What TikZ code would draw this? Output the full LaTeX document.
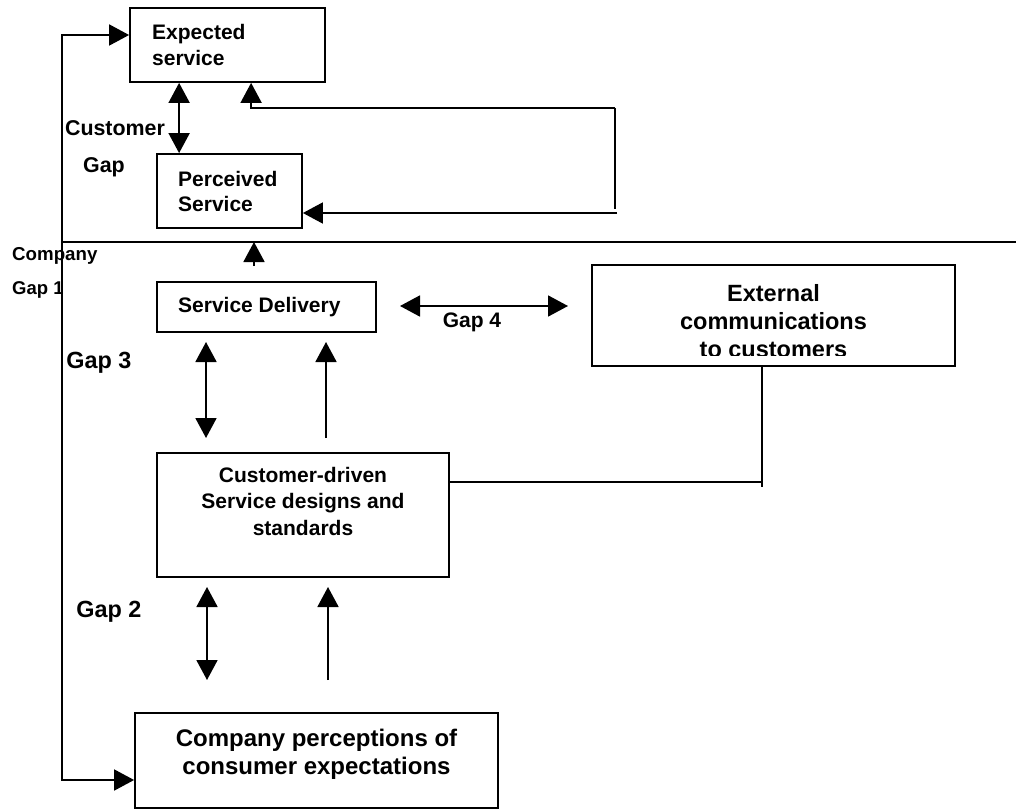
\documentclass[tikz,border=0pt]{standalone}
\usepackage{fontspec}
\setmainfont{Liberation Sans}
\usetikzlibrary{arrows.meta}
\begin{document}
\begin{tikzpicture}[x=1pt,y=-1pt]
\tikzset{
  box/.style={draw, line width=1.8pt, inner sep=0pt},
  conn/.style={line width=1.8pt},
  tip/.style={conn, -{Triangle[length=20pt,width=21pt]}},
  tips/.style={conn, {Triangle[length=20pt,width=21pt]}-{Triangle[length=20pt,width=21pt]}},
  txt/.style 2 args={inner sep=0pt, font=\bfseries\fontsize{#1}{#2}\selectfont}
}
\useasboundingbox (0,0) rectangle (1016,810);

% boxes
\node[box, minimum width=195pt, minimum height=74pt] (exp) at (227.5,45) {};
\node[box, minimum width=145pt, minimum height=74pt] (perc) at (229.5,191) {};
\node[box, minimum width=219pt, minimum height=50pt] (sd) at (266.5,307) {};
\node[box, minimum width=363pt, minimum height=101pt] (ext) at (773.5,315.5) {};
\node[box, minimum width=292pt, minimum height=124pt] (cd) at (303,515) {};
\node[box, minimum width=363pt, minimum height=95pt] (comp) at (316.5,760.5) {};

% box texts
\node[txt={21}{26}, align=left, anchor=west] (exptext) at (152,45) {Expected\\service};
\node[txt={21}{25}, align=left, anchor=west] (perctext) at (178,191) {Perceived\\Service};
\node[txt={21}{25}, anchor=west] (sdtext) at (178,307) {Service Delivery};
\begin{scope}
  % the third line is cut off by the text frame
  \clip (594,267) rectangle (953,355);
  \node[txt={23.5}{28}, align=center] (exttext) at (773.5,321) {External\\communications\\to customers};
\end{scope}
\node[txt={21}{26.5}, align=center] (cdtext) at (303,501) {Customer-driven\\Service designs and\\standards};
\node[txt={24}{28}, align=center] (comptext) at (316.5,754) {Company perceptions of\\consumer expectations};

% gap labels
\node[txt={21.4}{25}] (lcust) at (115,128) {Customer};
\node[txt={21.4}{25}] (lgap) at (104,167) {Gap};
\node[txt={18.7}{22}, anchor=west] (lcomp) at (12,256) {Company};
\node[txt={18.5}{22}, anchor=west] (lgap1) at (12,290) {Gap 1};
\node[txt={23.4}{28}] (lgap3) at (99,363) {Gap 3};
\node[txt={23.4}{28}] (lgap2) at (109,612) {Gap 2};
\node[txt={21}{25}] (lgap4) at (472,322) {Gap 4};

% helper points
\coordinate (lft) at (62,242);
\coordinate (rgt) at (1016,242);
\coordinate (fbtop) at (615,108);
\coordinate (fbbot) at (615,209);
\coordinate (fbin) at (617,213);
\coordinate (up0) at (254,266);
\coordinate (g4l) at (400,306);
\coordinate (g4r) at (568,306);
\coordinate (g3a) at (206,342);
\coordinate (g3b) at (206,438);
\coordinate (g3c) at (326,438);
\coordinate (g3d) at (326,342);
\coordinate (g2a) at (207,587);
\coordinate (g2b) at (207,680);
\coordinate (g2c) at (328,680);
\coordinate (g2d) at (328,587);
\coordinate (ecorner) at (762,487);
\coordinate (ejoin) at (762,482);

% connectors
\draw[tips] ([yshift=10pt]exp.west) -| (lft) |- ([yshift=-19.5pt]comp.west);
\draw[conn] (lft) -- (rgt);
\draw[tips] ([xshift=50pt]exp.south west) -- ([xshift=23pt]perc.north west);
\draw[tip] (fbtop) -| ([xshift=122pt]exp.south west);
\draw[conn] (fbtop) -- (fbbot);
\draw[tip] (fbin) -- (fbin -| perc.east);
\draw[tip] (up0) -- (up0 |- lft);
\draw[tips] (g4l) -- (g4r);
\draw[tips] (g3a) -- (g3b);
\draw[tip] (g3c) -- (g3d);
\draw[tips] (g2a) -- (g2b);
\draw[tip] (g2c) -- (g2d);
\draw[conn] (ecorner |- ext.south) -- (ecorner);
\draw[conn] (ejoin) -- (ejoin -| cd.east);
\end{tikzpicture}
\end{document}
